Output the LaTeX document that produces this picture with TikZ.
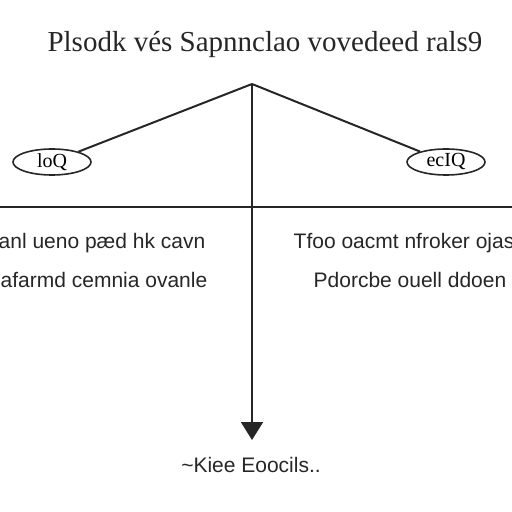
\documentclass[tikz,border=0pt]{standalone}
\usepackage{fontspec}
\setmainfont{Liberation Sans}
\newfontfamily\titlefont{Liberation Serif}
\usepackage{tikz}
\usetikzlibrary{shapes.geometric,arrows.meta}
\tikzset{
    main-line/.style = {draw=black!85, line width=1pt},
    leaf-oval/.style = {draw=black!85, ellipse, line width=0.8pt, minimum width=39pt, minimum height=13pt, inner sep=0pt, font=\titlefont\fontsize{10}{10}\selectfont},
    side-text/.style = {font=\fontsize{10.5}{12}\selectfont, text=black!85},
}

\begin{document}
\begin{tikzpicture}[x=0.5pt,y=-0.5pt]
\useasboundingbox (0,0) rectangle (512,512);
\node[font=\titlefont\fontsize{14.5}{14.5}\selectfont, text=black!85] (title) at (265,45) {Plsodk vés Sapnnclao vovedeed rals9};
\coordinate (top) at (252,84);
\coordinate (bottom) at (252,440);
\coordinate (axis-west) at (0,207);
\coordinate (axis-east) at (512,207);
\node[leaf-oval] (left-oval) at (52,162) {loQ};
\node[leaf-oval] (right-oval) at (446,162) {ecIQ};
\draw[main-line] (top) -- (left-oval);
\draw[main-line] (top) -- (right-oval);
\draw[main-line] (axis-west) -- (axis-east);
\draw[main-line, -{Triangle[width=11pt,length=9pt]}] (top) -- (bottom);
\node[side-text] (left-one) at (102,243) {anl ueno pæd hk cavn};
\node[side-text] (left-two) at (104,280) {afarmd cemnia ovanle};
\node[side-text] (right-one) at (404,243) {Tfoo oacmt nfroker ojas};
\node[side-text] (right-two) at (410,280) {Pdorcbe ouell ddoen};
\node[side-text] (result) at (251,465) {\textasciitilde Kiee Eoocils..};
\end{tikzpicture}
\end{document}
